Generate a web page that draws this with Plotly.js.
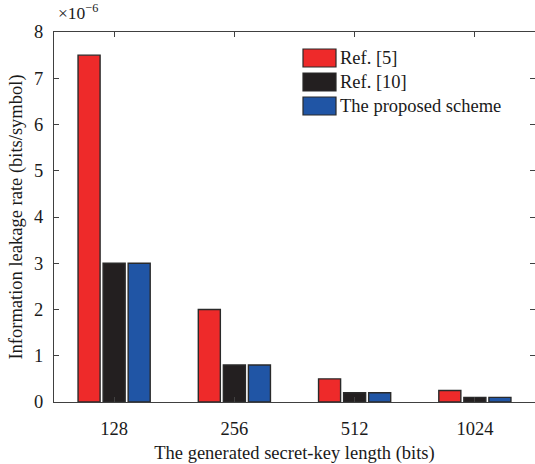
<!DOCTYPE html>
<html>
<head>
<meta charset="utf-8">
<script src="https://cdn.plot.ly/plotly-3.0.1.min.js"></script>
<style>
  html, body { margin: 0; padding: 0; background: #fff; }
  #chart { width: 535px; height: 464px; }
</style>
</head>
<body>
<div id="chart"></div>
<script>
// Key lengths (bits) on the x axis
const keyLengths = ['128', '256', '512', '1024'];

// Information leakage rate, in units of 1e-6 bits/symbol
const ref5 = [7.5, 2.0, 0.5, 0.25];
const ref10 = [3.0, 0.8, 0.2, 0.1];
const proposed = [3.0, 0.8, 0.2, 0.1];

const seriesNames = ['Ref. [5]', 'Ref. [10]', 'The proposed scheme'];
const seriesColors = ['#ee2a2a', '#231f20', '#2055a5'];
const seriesValues = [ref5, ref10, proposed];

const FONT = 'Liberation Serif, Times New Roman, serif';
const W = 535, H = 464;
const M = { l: 54, r: 0, t: 32, b: 62 };
const plotW = W - M.l - M.r, plotH = H - M.t - M.b;
const px2x = px => (px - M.l) / plotW;
const px2y = py => (H - M.b - py) / plotH;

const traces = seriesValues.map((vals, i) => ({
  type: 'bar',
  name: seriesNames[i],
  x: keyLengths,
  y: vals,
  showlegend: false,
  marker: { color: seriesColors[i], line: { color: '#2a2a2a', width: 1.4 } },
  hoverinfo: 'x+y+name'
}));

// Legend drawn as swatches + labels so the swatch size follows the figure style
const shapes = [];
const annotations = [];
seriesNames.forEach((name, i) => {
  const cy = 58 + i * 24;
  shapes.push({
    type: 'rect', xref: 'paper', yref: 'paper',
    x0: px2x(303), x1: px2x(336), y0: px2y(cy + 9), y1: px2y(cy - 9),
    fillcolor: seriesColors[i], line: { color: '#2a2a2a', width: 1.2 }
  });
  annotations.push({
    xref: 'paper', yref: 'paper', x: px2x(338), y: px2y(cy),
    xanchor: 'left', yanchor: 'middle', showarrow: false,
    text: name, font: { family: FONT, size: 18.5, color: '#1a1a1a' }
  });
});

// Axis scale factor label
annotations.push({
  xref: 'paper', yref: 'paper', x: px2x(56), y: px2y(25),
  xanchor: 'left', yanchor: 'bottom', showarrow: false,
  text: '×10<sup>−6</sup>', font: { family: FONT, size: 17.5, color: '#1a1a1a' }
});

const layout = {
  width: W, height: H,
  margin: M,
  paper_bgcolor: '#fff', plot_bgcolor: '#fff',
  font: { family: FONT, size: 18.5, color: '#1a1a1a' },
  barmode: 'group',
  bargap: 0.375,
  bargroupgap: 0.12,
  xaxis: {
    type: 'category',
    range: [-0.5, 3.5],
    showline: true, linecolor: '#404040', linewidth: 1, mirror: 'ticks',
    ticks: 'inside', ticklen: 5, tickcolor: '#404040', tickwidth: 1,
    ticklabelstandoff: 10,
    showgrid: false, zeroline: false,
    title: { text: 'The generated secret-key length (bits)', standoff: 10, font: { family: FONT, size: 18.5 } }
  },
  yaxis: {
    range: [0, 8],
    dtick: 1,
    showline: true, linecolor: '#404040', linewidth: 1, mirror: 'ticks',
    ticks: 'inside', ticklen: 5, tickcolor: '#404040', tickwidth: 1,
    ticklabelstandoff: 6,
    showgrid: false, zeroline: false,
    title: { text: 'Information leakage rate (bits/symbol)', standoff: 6, font: { family: FONT, size: 18.5 } }
  },
  shapes: shapes,
  annotations: annotations
};

Plotly.newPlot('chart', traces, layout, { displayModeBar: false, staticPlot: true });
</script>
</body>
</html>
